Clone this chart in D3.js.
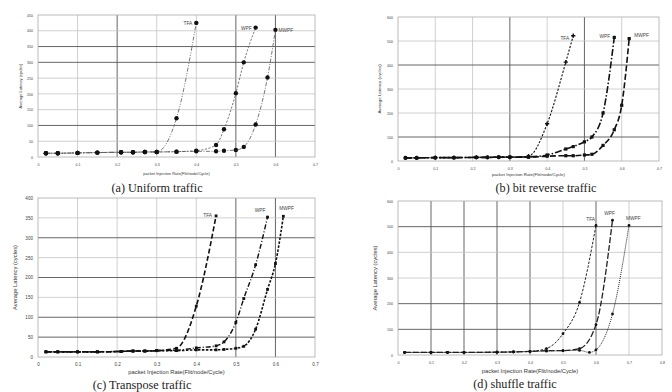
<!DOCTYPE html>
<html>
<head>
<meta charset="utf-8">
<script src="https://cdn.jsdelivr.net/npm/d3@7"></script>
<style>
  body { margin: 0; background: #fff; }
  svg { display: block; }
</style>
</head>
<body>
<div id="chart"></div>
<script>
// ---- data ----
var seriesNames = ["TFA", "WPF", "MWPF"];

// (a) Uniform traffic
var uniformX_TFA = [0.02, 0.05, 0.1, 0.15, 0.21, 0.24, 0.27, 0.3, 0.35, 0.4];
var uniformY_TFA = [12, 12, 13, 14, 15, 15, 16, 16, 123, 425];
var uniformX_WPF = [0.02, 0.05, 0.1, 0.15, 0.21, 0.24, 0.27, 0.3, 0.35, 0.4, 0.45, 0.47, 0.5, 0.52, 0.55];
var uniformY_WPF = [12, 12, 13, 14, 15, 15, 16, 16, 17, 20, 38, 88, 202, 300, 410];
var uniformX_MWPF = [0.02, 0.05, 0.1, 0.15, 0.21, 0.24, 0.27, 0.3, 0.35, 0.4, 0.45, 0.47, 0.5, 0.52, 0.55, 0.58, 0.6];
var uniformY_MWPF = [12, 12, 13, 14, 15, 15, 16, 16, 17, 18, 18, 20, 22, 32, 103, 252, 403];

// (b) bit reverse traffic
var bitrevX_TFA = [0.02, 0.05, 0.1, 0.15, 0.21, 0.24, 0.27, 0.3, 0.35, 0.4, 0.45, 0.47];
var bitrevY_TFA = [13, 13, 14, 14, 15, 15, 16, 16, 20, 155, 412, 522];
var bitrevX_WPF = [0.02, 0.05, 0.1, 0.15, 0.21, 0.24, 0.27, 0.3, 0.35, 0.4, 0.45, 0.47, 0.5, 0.52, 0.55, 0.58];
var bitrevY_WPF = [13, 13, 14, 14, 15, 15, 16, 16, 17, 25, 50, 60, 80, 100, 200, 515];
var bitrevX_MWPF = [0.02, 0.05, 0.1, 0.15, 0.21, 0.24, 0.27, 0.3, 0.35, 0.4, 0.45, 0.47, 0.5, 0.52, 0.55, 0.58, 0.6, 0.62];
var bitrevY_MWPF = [13, 13, 14, 14, 15, 15, 16, 16, 16, 20, 22, 22, 25, 28, 65, 130, 232, 510];

// (c) Transpose traffic
var transX_TFA = [0.02, 0.05, 0.1, 0.15, 0.21, 0.24, 0.27, 0.3, 0.35, 0.4, 0.45];
var transY_TFA = [13, 13, 13, 13, 14, 15, 15, 16, 22, 128, 355];
var transX_WPF = [0.02, 0.05, 0.1, 0.15, 0.21, 0.24, 0.27, 0.3, 0.35, 0.4, 0.45, 0.47, 0.5, 0.52, 0.55, 0.58];
var transY_WPF = [13, 13, 13, 13, 14, 15, 15, 16, 17, 23, 28, 38, 87, 147, 232, 352];
var transX_MWPF = [0.02, 0.05, 0.1, 0.15, 0.21, 0.24, 0.27, 0.3, 0.35, 0.4, 0.45, 0.47, 0.5, 0.52, 0.55, 0.58, 0.6, 0.62];
var transY_MWPF = [13, 13, 13, 13, 14, 15, 15, 16, 16, 18, 18, 19, 22, 27, 70, 170, 235, 354];

// (d) shuffle traffic
var shufX_TFA = [0.02, 0.1, 0.15, 0.2, 0.3, 0.35, 0.4, 0.45, 0.5, 0.55, 0.6];
var shufY_TFA = [10, 10, 10, 10, 11, 12, 14, 25, 83, 205, 505];
var shufX_WPF = [0.02, 0.1, 0.15, 0.2, 0.3, 0.35, 0.4, 0.45, 0.5, 0.55, 0.6, 0.65];
var shufY_WPF = [10, 10, 10, 10, 11, 12, 14, 17, 17, 25, 118, 525];
var shufX_MWPF = [0.02, 0.1, 0.15, 0.2, 0.3, 0.35, 0.4, 0.45, 0.5, 0.55, 0.58, 0.6, 0.65, 0.7];
var shufY_MWPF = [10, 10, 10, 10, 11, 12, 14, 15, 17, 18, 10, 20, 160, 505];

var xLabel = "packet Injection  Rate(Flit/node/Cycle)";
var yLabel = "Average Latency (cycles)";

function zipXY(xs, ys) { return xs.map(function(x, i) { return { x: x, y: ys[i] }; }); }

// ---- panel layout / styling ----
var panels = [
  { title: "(a) Uniform traffic", box: [38, 315, 15, 157], xMax: 0.7, yMax: 450, yStep: 50,
    tickFont: 3.6, axisFont: 4, yLabX: 22, xLabY: 175, titleX: 157, titleY: 192,
    darkX: [0.2, 0.5, 0.6], darkY: [100, 300, 350],
    series: [
      { xs: uniformX_TFA, ys: uniformY_TFA, dash: "4,1.5,1,1.5,1,1.5", w: 0.8, col: "#555", mark: "circle", ms: 2.2, lab: [-4, 2, "end"] },
      { xs: uniformX_WPF, ys: uniformY_WPF, dash: "2.2,1.5", w: 0.8, col: "#555", mark: "circle", ms: 2.2, lab: [-4, 2, "end"] },
      { xs: uniformX_MWPF, ys: uniformY_MWPF, dash: "4,1.5,1,1.5", w: 0.8, col: "#555", mark: "circle", ms: 2.2, lab: [3, 2, "start"] }
    ] },
  { title: "(b) bit reverse traffic", box: [398, 659, 17, 161], xMax: 0.7, yMax: 600, yStep: 100,
    tickFont: 3.6, axisFont: 4.4, yLabX: 381, xLabY: 176, titleX: 546, titleY: 192,
    darkX: [0.3, 0.5], darkY: [100, 400],
    series: [
      { xs: bitrevX_TFA, ys: bitrevY_TFA, dash: "2.2,1.5", w: 1.1, col: "#111", mark: "plus", ms: 2, lab: [-4, 4, "end"] },
      { xs: bitrevX_WPF, ys: bitrevY_WPF, dash: "7,2,1.5,2", w: 1.6, col: "#111", mark: "square", ms: 3.2, lab: [-4, 1, "end"] },
      { xs: bitrevX_MWPF, ys: bitrevY_MWPF, dash: "6,2.5", w: 1.6, col: "#111", mark: "square", ms: 3.2, lab: [5, -2, "start"] }
    ] },
  { title: "(c) Transpose traffic", box: [38, 315, 198, 357], xMax: 0.7, yMax: 400, yStep: 50,
    tickFont: 4.6, axisFont: 5.8, yLabX: 17, xLabY: 374, titleX: 142, titleY: 389,
    darkX: [0.5, 0.6], darkY: [50, 100, 200, 300],
    series: [
      { xs: transX_TFA, ys: transY_TFA, dash: "5,2.5", w: 1.6, col: "#111", mark: "square", ms: 2.8, lab: [-4, 1, "end"] },
      { xs: transX_WPF, ys: transY_WPF, dash: "5,2,1,2", w: 1.4, col: "#111", mark: "square", ms: 2.8, lab: [-2, -5, "end"] },
      { xs: transX_MWPF, ys: transY_MWPF, dash: "2.5,1.5", w: 1.6, col: "#111", mark: "square", ms: 2.8, lab: [-4, -6, "start"] }
    ] },
  { title: "(d) shuffle traffic", box: [398, 662, 201, 355], xMax: 0.8, yMax: 600, yStep: 100,
    tickFont: 3.6, axisFont: 5.8, yLabX: 377, xLabY: 373, titleX: 515, titleY: 388,
    darkX: [0.1, 0.2, 0.3, 0.4, 0.6], darkY: [100, 200, 500],
    series: [
      { xs: shufX_TFA, ys: shufY_TFA, dash: "2.5,1.5", w: 1, col: "#222", mark: "circle", ms: 1.4, lab: [-1, -4, "end"] },
      { xs: shufX_WPF, ys: shufY_WPF, dash: "6,2", w: 1.3, col: "#222", mark: "circle", ms: 1.4, lab: [-3, -5, "middle"] },
      { xs: shufX_MWPF, ys: shufY_MWPF, dash: "1,1", w: 1, col: "#222", mark: "circle", ms: 1.4, lab: [-3, -5, "start"] }
    ] }
];

var svg = d3.select("#chart").append("svg")
  .attr("width", 672)
  .attr("height", 392);

svg.append("rect").attr("width", 672).attr("height", 392).attr("fill", "#fff");

panels.forEach(function(p) {
  var x = d3.scaleLinear().domain([0, p.xMax]).range([p.box[0], p.box[1]]);
  var y = d3.scaleLinear().domain([0, p.yMax]).range([p.box[3], p.box[2]]);
  var g = svg.append("g");

  var xTicks = d3.range(0, p.xMax + 1e-9, 0.1);
  var yTicks = d3.range(0, p.yMax + 1e-9, p.yStep);
  var isDark = function(arr, v) { return arr.some(function(a) { return Math.abs(a - v) < 1e-6; }); };

  // gridlines
  g.selectAll(".vg").data(xTicks.slice(1, -1)).enter().append("line")
    .attr("x1", function(d) { return x(d); }).attr("x2", function(d) { return x(d); })
    .attr("y1", y(p.yMax)).attr("y2", y(0))
    .attr("stroke", function(d) { return isDark(p.darkX, d) ? "#555" : "#c4c4c4"; })
    .attr("stroke-width", function(d) { return isDark(p.darkX, d) ? 0.9 : 0.8; });
  g.selectAll(".hg").data(yTicks.slice(1, -1)).enter().append("line")
    .attr("x1", x(0)).attr("x2", x(p.xMax))
    .attr("y1", function(d) { return y(d); }).attr("y2", function(d) { return y(d); })
    .attr("stroke", function(d) { return isDark(p.darkY, d) ? "#555" : "#c4c4c4"; })
    .attr("stroke-width", function(d) { return isDark(p.darkY, d) ? 0.9 : 0.8; });
  g.append("rect")
    .attr("x", x(0)).attr("y", y(p.yMax))
    .attr("width", x(p.xMax) - x(0)).attr("height", y(0) - y(p.yMax))
    .attr("fill", "none").attr("stroke", "#aaa").attr("stroke-width", 0.8);

  // axes
  var xAxis = d3.axisBottom(x).tickValues(xTicks).tickSize(0).tickPadding(6)
    .tickFormat(function(d) { return d === 0 ? "0" : d3.format(".1f")(d); });
  var yAxis = d3.axisLeft(y).tickValues(yTicks).tickSize(0).tickPadding(5)
    .tickFormat(d3.format("d"));
  var gx = g.append("g").attr("transform", "translate(0," + y(0) + ")").call(xAxis);
  var gy = g.append("g").attr("transform", "translate(" + x(0) + ",0)").call(yAxis);
  [gx, gy].forEach(function(a) {
    a.select(".domain").remove();
    a.selectAll("text").attr("font-family", "Arial, 'Liberation Sans', sans-serif")
      .attr("font-size", p.tickFont).attr("fill", "#444");
  });

  // axis titles
  g.append("text")
    .attr("x", (p.box[0] + p.box[1]) / 2).attr("y", p.xLabY)
    .attr("text-anchor", "middle")
    .attr("font-family", "Arial, 'Liberation Sans', sans-serif")
    .attr("font-size", p.axisFont).attr("fill", "#333")
    .text(xLabel);
  g.append("text")
    .attr("transform", "translate(" + p.yLabX + "," + ((p.box[2] + p.box[3]) / 2) + ") rotate(-90)")
    .attr("text-anchor", "middle")
    .attr("font-family", "Arial, 'Liberation Sans', sans-serif")
    .attr("font-size", p.axisFont).attr("fill", "#333")
    .text(yLabel);

  // panel caption
  g.append("text")
    .attr("x", p.titleX).attr("y", p.titleY)
    .attr("text-anchor", "middle")
    .attr("font-family", "'Liberation Serif', 'Times New Roman', serif")
    .attr("font-size", 12.2).attr("fill", "#222")
    .text(p.title);

  // series
  var line = d3.line()
    .x(function(d) { return x(d.x); })
    .y(function(d) { return y(d.y); })
    .curve(d3.curveMonotoneX);

  p.series.forEach(function(s, i) {
    var pts = zipXY(s.xs, s.ys);
    g.append("path")
      .attr("d", line(pts))
      .attr("fill", "none")
      .attr("stroke", s.col)
      .attr("stroke-width", s.w)
      .attr("stroke-dasharray", s.dash);

    if (s.mark === "circle") {
      g.selectAll(null).data(pts).enter().append("circle")
        .attr("cx", function(d) { return x(d.x); })
        .attr("cy", function(d) { return y(d.y); })
        .attr("r", s.ms).attr("fill", "#111");
    } else if (s.mark === "square") {
      g.selectAll(null).data(pts).enter().append("rect")
        .attr("x", function(d) { return x(d.x) - s.ms / 2; })
        .attr("y", function(d) { return y(d.y) - s.ms / 2; })
        .attr("width", s.ms).attr("height", s.ms).attr("fill", "#111");
    } else {
      g.selectAll(null).data(pts).enter().append("path")
        .attr("transform", function(d) { return "translate(" + x(d.x) + "," + y(d.y) + ")"; })
        .attr("d", d3.symbol(d3.symbolCross, 10))
        .attr("fill", "#111");
    }

    var last = pts[pts.length - 1];
    g.append("text")
      .attr("x", x(last.x) + s.lab[0]).attr("y", y(last.y) + s.lab[1])
      .attr("text-anchor", s.lab[2])
      .attr("font-family", "Arial, 'Liberation Sans', sans-serif")
      .attr("font-size", 4.8).attr("fill", "#444")
      .text(seriesNames[i]);
  });
});
</script>
</body>
</html>
